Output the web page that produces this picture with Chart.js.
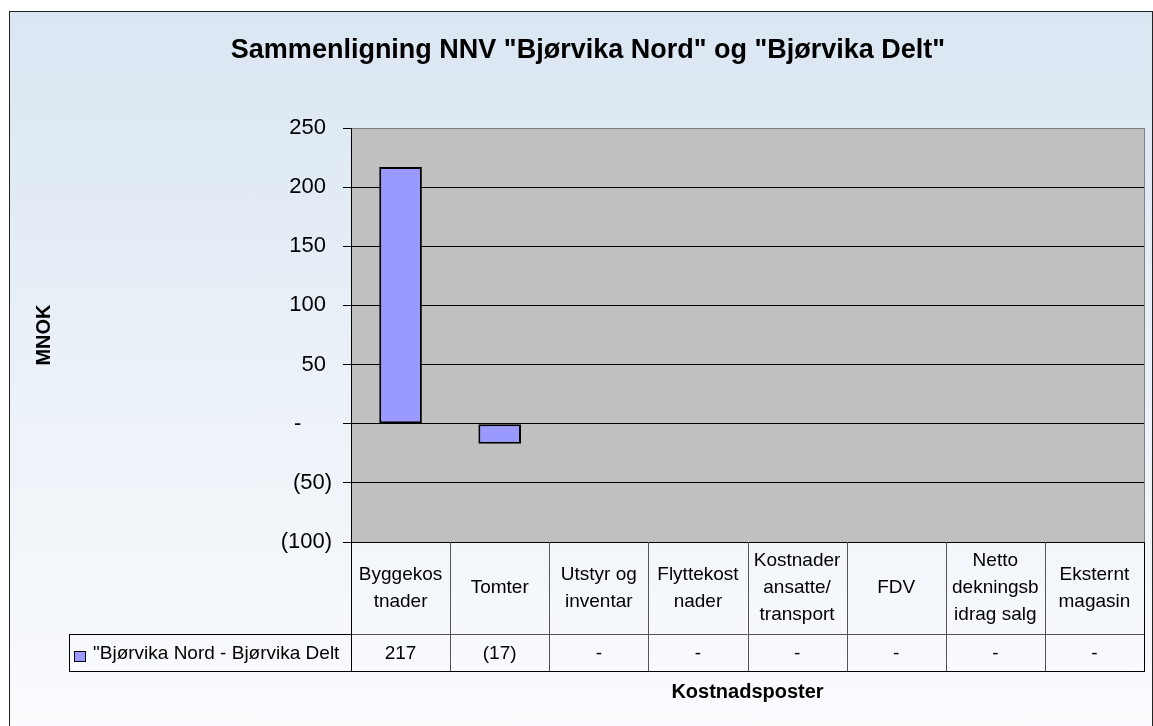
<!DOCTYPE html>
<html>
<head>
<meta charset="utf-8">
<title>Sammenligning NNV</title>
<script src="https://cdn.jsdelivr.net/npm/chart.js@4"></script>
<style>
    html, body { margin: 0; padding: 0; background: #fff; }
    .frame {
        position: absolute; left: 9px; top: 11px;
        width: 1142px; height: 730px;
        border: 1px solid #222;
        background: linear-gradient(to bottom, #dae6f2, #fbfcfe);
    }
    .myChart { position: absolute; left: 0; top: 0; }
</style>
</head>
<body>
<div class="frame"></div>
<canvas class="myChart" width="1153" height="726"></canvas>
<script>
const chartTitle = 'Sammenligning NNV "Bjørvika Nord" og "Bjørvika Delt"';
const seriesName = '"Bjørvika Nord - Bjørvika Delt';
const xTitle = "Kostnadsposter";
const yTitle = "MNOK";

// category names as they are wrapped in the data table
const categories = [
    ["Byggekos", "tnader"],
    ["Tomter"],
    ["Utstyr og", "inventar"],
    ["Flyttekost", "nader"],
    ["Kostnader", "ansatte/", "transport"],
    ["FDV"],
    ["Netto", "dekningsb", "idrag salg"],
    ["Eksternt", "magasin"]
];
const values = [217, -17, 0, 0, 0, 0, 0, 0];
const yTicks = [-100, -50, 0, 50, 100, 150, 200, 250];

const FONT = "'Liberation Sans', Arial, sans-serif";

/*
    Excel style accounting format: (17) for negatives, - for zero
*/
function formatAccounting(n) {
    if (n < 0) {
        return "(" + (-n) + ")";
    }
    if (n === 0) {
        return "-";
    }
    return String(n);
}

// axis labels keep the trailing room Excel leaves for the ")"
function formatTick(n) {
    if (n < 0) return "(" + (-n) + ")";
    if (n === 0) return "-     ";
    return n + " ";
}

const plotBg = {
    id: "plotBg",
    beforeDraw(chart) {
        const ctx = chart.ctx;
        const a = chart.chartArea;
        ctx.save();
        ctx.fillStyle = "#c0c0c0";
        ctx.fillRect(a.left, a.top, a.right - a.left, a.bottom - a.top);
        ctx.strokeStyle = "#808080";
        ctx.lineWidth = 1;
        ctx.strokeRect(a.left + 0.5, a.top + 0.5, a.right - a.left, a.bottom - a.top);
        ctx.restore();
    }
};

/*
    Data table under the plot, columns follow the x scale
*/
const dataTable = {
    id: "dataTable",
    afterDraw(chart) {
        const ctx = chart.ctx;
        const a = chart.chartArea;
        const xs = chart.scales.x;
        const colW = (xs.right - xs.left) / categories.length;
        const headTop = Math.round(a.bottom);
        const rowTop = 634;
        const rowBottom = 671;
        const legendLeft = 69;

        ctx.save();
        ctx.lineWidth = 1;

        // inner lines
        ctx.strokeStyle = "#555";
        ctx.beginPath();
        categories.forEach((c, i) => {
            if (i === 0) return;
            const x = Math.round(xs.getPixelForValue(i) - colW / 2) + 0.5;
            ctx.moveTo(x, headTop);
            ctx.lineTo(x, rowBottom);
        });
        ctx.moveTo(Math.round(a.left), rowTop + 0.5);
        ctx.lineTo(Math.round(a.right), rowTop + 0.5);
        ctx.stroke();

        // outer lines
        ctx.strokeStyle = "#000";
        ctx.beginPath();
        ctx.moveTo(Math.round(a.left) + 0.5, headTop);
        ctx.lineTo(Math.round(a.left) + 0.5, rowBottom);
        ctx.moveTo(Math.round(a.right) + 0.5, headTop);
        ctx.lineTo(Math.round(a.right) + 0.5, rowBottom + 1);
        ctx.moveTo(legendLeft + 0.5, rowTop);
        ctx.lineTo(legendLeft + 0.5, rowBottom);
        ctx.moveTo(legendLeft, rowTop + 0.5);
        ctx.lineTo(Math.round(a.left), rowTop + 0.5);
        ctx.moveTo(legendLeft, rowBottom + 0.5);
        ctx.lineTo(Math.round(a.right) + 1, rowBottom + 0.5);
        ctx.stroke();

        // header texts and values
        ctx.fillStyle = "#000";
        ctx.font = "19px " + FONT;
        ctx.textAlign = "center";
        ctx.textBaseline = "middle";
        const lineH = 27;
        const headMid = (headTop + rowTop) / 2;
        categories.forEach((lines, i) => {
            const x = xs.getPixelForValue(i);
            const y0 = headMid - (lines.length - 1) * lineH / 2;
            lines.forEach((t, j) => ctx.fillText(t, x, y0 + j * lineH));
            ctx.fillText(formatAccounting(values[i]), x, (rowTop + rowBottom) / 2 + 1);
        });

        // legend key
        const ds = chart.data.datasets[0];
        ctx.fillStyle = ds.backgroundColor;
        ctx.fillRect(74, 651, 12, 11);
        ctx.strokeStyle = "#000";
        ctx.strokeRect(74.5, 651.5, 11, 10);
        ctx.fillStyle = "#000";
        ctx.textAlign = "left";
        ctx.fillText(ds.label, 93, (rowTop + rowBottom) / 2 + 1);

        ctx.restore();
    }
};

const data = {
    labels: categories,
    datasets: [
        {
            label: seriesName,
            data: values,
            backgroundColor: "#9999ff",
            borderColor: "#000",
            borderWidth: 2,
            borderSkipped: false,
            categoryPercentage: 1,
            barPercentage: 0.43
        }
    ]
};

const config = {
    type: "bar",
    data: data,
    options: {
        responsive: false,
        animation: false,
        layout: {
            padding: { left: 32, right: 9, top: 0, bottom: 0 }
        },
        plugins: {
            legend: { display: false },
            tooltip: { enabled: false },
            title: {
                display: true,
                text: chartTitle,
                color: "#000",
                font: { family: FONT, size: 27, weight: "bold" },
                padding: { top: 34, bottom: 61.6 }
            }
        },
        scales: {
            x: {
                ticks: { display: false },
                grid: { display: false, drawTicks: false },
                border: { display: false },
                title: {
                    display: true,
                    text: xTitle,
                    color: "#000",
                    font: { family: FONT, size: 20, weight: "bold" },
                    padding: { top: 0, bottom: 22 }
                },
                afterFit(scale) {
                    scale.height = 184;
                }
            },
            y: {
                min: yTicks[0],
                max: yTicks[yTicks.length - 1],
                ticks: {
                    stepSize: yTicks[1] - yTicks[0],
                    color: "#000",
                    padding: 11,
                    font: { family: FONT, size: 22 },
                    callback: (v) => formatTick(v)
                },
                grid: {
                    color: (c) => (c.tick && c.tick.value === yTicks[yTicks.length - 1]) ? "#808080" : "#000",
                    tickColor: "#000",
                    tickLength: 8,
                    lineWidth: 1
                },
                border: { display: true, color: "#000", width: 1 },
                title: {
                    display: true,
                    text: yTitle,
                    color: "#000",
                    font: { family: FONT, size: 20, weight: "bold" },
                    padding: { top: 0, bottom: 0 }
                },
                afterFit(scale) {
                    scale.width = 319;
                }
            }
        }
    },
    plugins: [plotBg, dataTable]
};

// eslint-disable-next-line no-undef
const myChart = new Chart(document.querySelector(".myChart"), config);
</script>
</body>
</html>
